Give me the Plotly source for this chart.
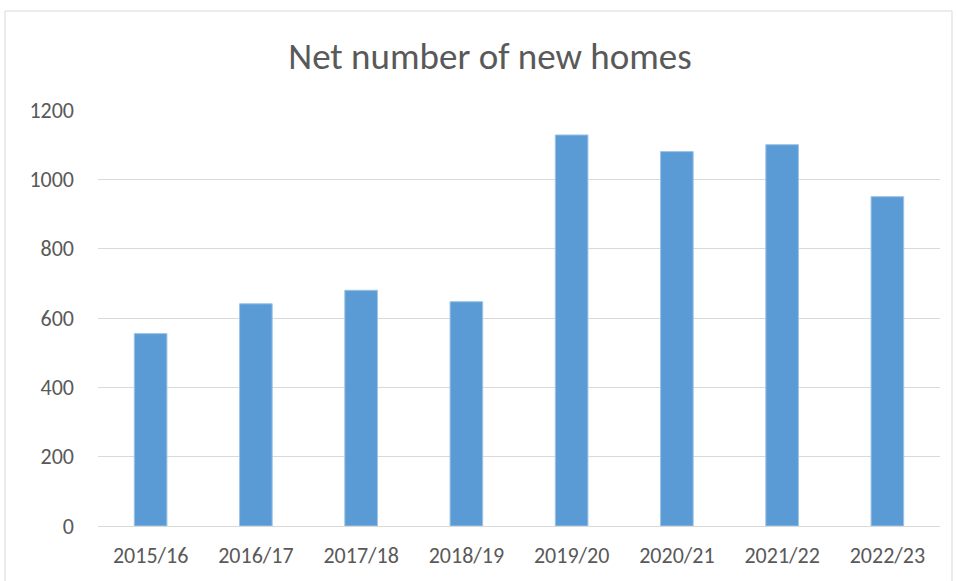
import plotly.graph_objects as go

categories = ["2015/16", "2016/17", "2017/18", "2018/19", "2019/20", "2020/21", "2021/22", "2022/23"]
net_new_homes = [555, 641, 680, 647, 1128, 1080, 1100, 950]
y_ticks = [0, 200, 400, 600, 800, 1000, 1200]

FONT = "Carlito, Calibri, Lato, sans-serif"
TXT = "#595959"

fig = go.Figure(go.Bar(
    x=categories, y=net_new_homes,
    marker=dict(color="#5b9bd5", line=dict(color="#9dc3e6", width=1)),
    width=0.31,
))

fig.update_layout(
    width=957, height=581,
    margin=dict(l=98, r=17, t=110, b=55),
    paper_bgcolor="white", plot_bgcolor="white",
    title=dict(text="Net number of new homes", x=490/957, xanchor="center",
               y=1-56/581, yanchor="middle", yref="container",
               font=dict(family=FONT, size=37, color=TXT)),
    showlegend=False,
    bargap=0.69,
    xaxis=dict(showgrid=False, showline=True, linecolor="#d9d9d9", linewidth=1,
               ticks="", tickfont=dict(family=FONT, size=22, color=TXT),
               ticklabelstandoff=10),
    yaxis=dict(range=[0, 1200], tickvals=y_ticks, showgrid=True, gridcolor="#d9d9d9",
               gridwidth=1, zeroline=False, showline=False, ticks="",
               tickfont=dict(family=FONT, size=22, color=TXT), ticklabelstandoff=23),
    shapes=[dict(type="rect", xref="paper", yref="paper",
                 x0=(5-98)/842, x1=(952-98)/842, y0=-0.2, y1=(526-11)/416,
                 line=dict(color="#d9d9d9", width=1), fillcolor="rgba(0,0,0,0)", layer="below")],
)

fig.write_html("out.html", config={"displayModeBar": False},
               post_script="document.body.style.margin='0px';")
